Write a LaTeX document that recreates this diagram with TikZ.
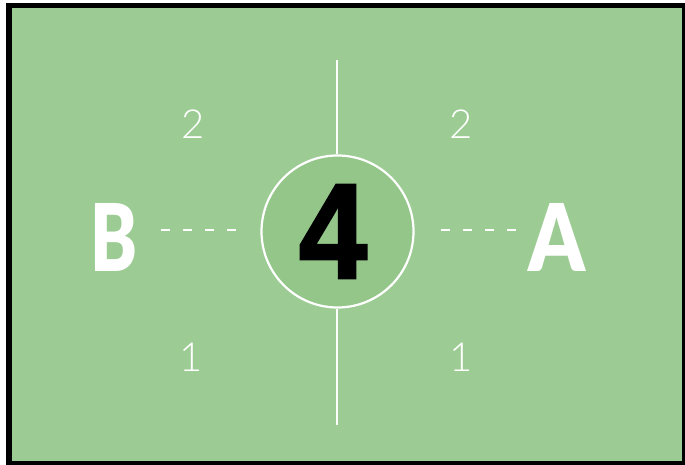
\documentclass[tikz,border=0pt]{standalone}
\usepackage{fontspec}
\setmainfont{Liberation Sans}
\newfontfamily\heavyfont{Lato Black}
\newfontfamily\helvheavy{Liberation Sans Bold}[FakeBold=2]
\newfontfamily\lightfont{Lato Light}
\usepackage{graphicx}
\definecolor{field}{HTML}{9CCC94}
\definecolor{centre}{HTML}{94C68A}
\tikzset{
  num/.style={text=white, font=\lightfont\fontsize{40}{40}\selectfont, inner sep=0pt},
  bigletter/.style={text=white, inner sep=0pt},
  dashline/.style={draw=white, line width=2pt, dash pattern=on 9pt off 13pt},
  whiteline/.style={draw=white, line width=2.5pt},
}
\begin{document}
\begin{tikzpicture}[x=1pt,y=-1pt]
\useasboundingbox (0,0) rectangle (685,465);
\fill[black] (6,3) rectangle (685,465);
\fill[field] (12,8.5) rectangle (682,461);
\coordinate (top) at (337,60);
\coordinate (bot) at (337,425);
\node[circle, minimum size=154pt, inner sep=0pt, fill=centre] (mid) at (337.5,231.5) {};
\draw[whiteline] (top) -- (top |- mid.north);
\draw[whiteline] (bot |- mid.south) -- (bot);
\draw[white, line width=2.2pt] (mid.center) circle (76pt);
\node[inner sep=0pt] (four) at (333,231.5) {\resizebox{68pt}{93pt}{\helvheavy 4}};
\node[bigletter] (B) at (114.5,237) {\resizebox{47pt}{68pt}{\heavyfont B}};
\node[bigletter] (A) at (556.5,237) {\resizebox{57pt}{68pt}{\heavyfont A}};
\coordinate (bl1) at (161,230);
\coordinate (bl2) at (240,230);
\coordinate (ar1) at (441,230);
\coordinate (ar2) at (520,230);
\draw[dashline] (bl1) -- (bl2);
\draw[dashline] (ar1) -- (ar2);
\node[num] (tl) at (193,124) {2};
\node[num] (tr) at (461,124) {2};
\node[num] (bl) at (191,357) {1};
\node[num] (br) at (461,357) {1};
\end{tikzpicture}
\end{document}
